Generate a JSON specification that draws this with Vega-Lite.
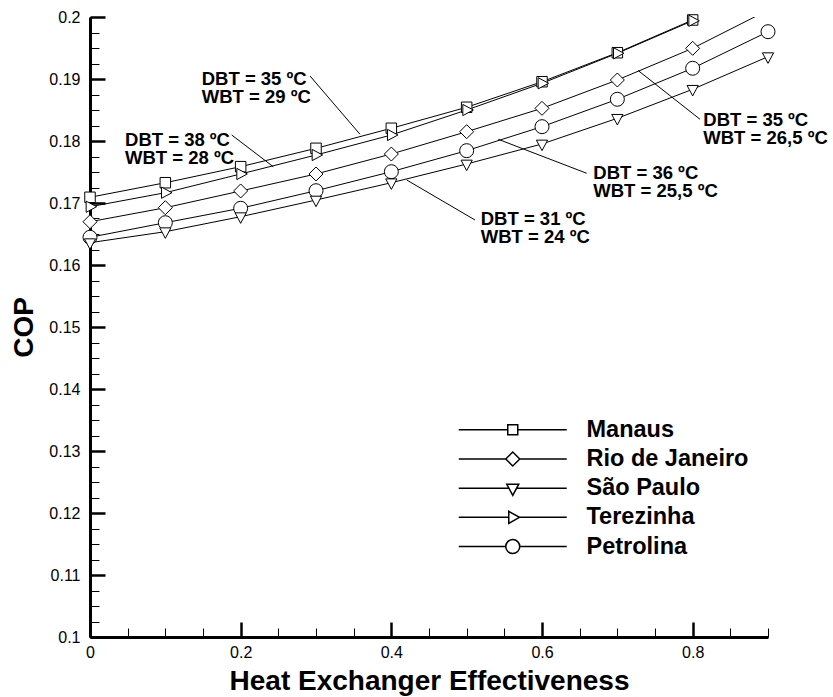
{
  "$schema": "https://vega.github.io/schema/vega-lite/v6.json",
  "width": 678,
  "height": 620,
  "autosize": {"type": "none"},
  "padding": {"left": 90, "top": 17, "right": 65, "bottom": 60},
  "background": "white",
  "config": {
    "view": {"stroke": null},
    "axis": {"grid": false},
    "font": "Liberation Sans"
  },
  "datasets": {
    "series": [
      {"city": "Manaus", "eff": 0.0, "cop": 0.17092},
      {"city": "Manaus", "eff": 0.1, "cop": 0.17327},
      {"city": "Manaus", "eff": 0.2, "cop": 0.17586},
      {"city": "Manaus", "eff": 0.3, "cop": 0.17882},
      {"city": "Manaus", "eff": 0.4, "cop": 0.18205},
      {"city": "Manaus", "eff": 0.5, "cop": 0.18544},
      {"city": "Manaus", "eff": 0.6, "cop": 0.18956},
      {"city": "Manaus", "eff": 0.7, "cop": 0.19424},
      {"city": "Manaus", "eff": 0.8, "cop": 0.19952},
      {"city": "Terezinha", "eff": 0.0, "cop": 0.16940},
      {"city": "Terezinha", "eff": 0.1, "cop": 0.17166},
      {"city": "Terezinha", "eff": 0.2, "cop": 0.17468},
      {"city": "Terezinha", "eff": 0.3, "cop": 0.17774},
      {"city": "Terezinha", "eff": 0.4, "cop": 0.18097},
      {"city": "Terezinha", "eff": 0.5, "cop": 0.18500},
      {"city": "Terezinha", "eff": 0.6, "cop": 0.18931},
      {"city": "Terezinha", "eff": 0.7, "cop": 0.19415},
      {"city": "Terezinha", "eff": 0.8, "cop": 0.19940},
      {"city": "Rio de Janeiro", "eff": 0.0, "cop": 0.16698},
      {"city": "Rio de Janeiro", "eff": 0.1, "cop": 0.16924},
      {"city": "Rio de Janeiro", "eff": 0.2, "cop": 0.17194},
      {"city": "Rio de Janeiro", "eff": 0.3, "cop": 0.17468},
      {"city": "Rio de Janeiro", "eff": 0.4, "cop": 0.17790},
      {"city": "Rio de Janeiro", "eff": 0.5, "cop": 0.18150},
      {"city": "Rio de Janeiro", "eff": 0.6, "cop": 0.18527},
      {"city": "Rio de Janeiro", "eff": 0.7, "cop": 0.18984},
      {"city": "Rio de Janeiro", "eff": 0.8, "cop": 0.19495},
      {"city": "Rio de Janeiro", "eff": 0.9, "cop": 0.20110},
      {"city": "Petrolina", "eff": 0.0, "cop": 0.16447},
      {"city": "Petrolina", "eff": 0.1, "cop": 0.16682},
      {"city": "Petrolina", "eff": 0.2, "cop": 0.16915},
      {"city": "Petrolina", "eff": 0.3, "cop": 0.17198},
      {"city": "Petrolina", "eff": 0.4, "cop": 0.17505},
      {"city": "Petrolina", "eff": 0.5, "cop": 0.17844},
      {"city": "Petrolina", "eff": 0.6, "cop": 0.18231},
      {"city": "Petrolina", "eff": 0.7, "cop": 0.18673},
      {"city": "Petrolina", "eff": 0.8, "cop": 0.19173},
      {"city": "Petrolina", "eff": 0.9, "cop": 0.19763},
      {"city": "São Paulo", "eff": 0.0, "cop": 0.16360},
      {"city": "São Paulo", "eff": 0.1, "cop": 0.16537},
      {"city": "São Paulo", "eff": 0.2, "cop": 0.16779},
      {"city": "São Paulo", "eff": 0.3, "cop": 0.17048},
      {"city": "São Paulo", "eff": 0.4, "cop": 0.17327},
      {"city": "São Paulo", "eff": 0.5, "cop": 0.17629},
      {"city": "São Paulo", "eff": 0.6, "cop": 0.17952},
      {"city": "São Paulo", "eff": 0.7, "cop": 0.18366},
      {"city": "São Paulo", "eff": 0.8, "cop": 0.18834},
      {"city": "São Paulo", "eff": 0.9, "cop": 0.19360}
    ],
    "notes": [
      {"label": "DBT = 35 ºC\nWBT = 29 ºC", "tx": 0.1483, "ty": 0.18998, "x1": 0.2921, "y1": 0.19048, "x2": 0.3584, "y2": 0.18108},
      {"label": "DBT = 38 ºC\nWBT = 28 ºC", "tx": 0.0465, "ty": 0.18019, "x1": 0.1881, "y1": 0.18097, "x2": 0.2433, "y2": 0.17585},
      {"label": "DBT = 31 ºC\nWBT = 24 ºC", "tx": 0.5187, "ty": 0.16750, "x1": 0.4204, "y1": 0.17371, "x2": 0.5111, "y2": 0.16726},
      {"label": "DBT = 36 ºC\nWBT = 25,5 ºC", "tx": 0.6681, "ty": 0.17486, "x1": 0.5420, "y1": 0.18027, "x2": 0.6594, "y2": 0.17479},
      {"label": "DBT = 35 ºC\nWBT = 26,5 ºC", "tx": 0.8141, "ty": 0.18344, "x1": 0.7279, "y1": 0.19134, "x2": 0.8098, "y2": 0.18350}
    ]
  },
  "resolve": {
    "axis": {"x": "independent", "y": "independent"},
    "scale": {"shape": "independent"}
  },
  "layer": [
    {
      "data": {"name": "series"},
      "mark": {"type": "line", "clip": true, "color": "black", "strokeWidth": 1},
      "encoding": {
        "x": {
          "field": "eff", "type": "quantitative",
          "scale": {"domain": [0, 0.9], "nice": false, "zero": false},
          "axis": {
            "orient": "bottom", "values": [0, 0.2, 0.4, 0.6, 0.8], "labels": false,
            "ticks": true, "tickSize": -15, "tickWidth": 2.5, "tickColor": "black",
            "domain": true, "domainWidth": 3, "domainColor": "black", "grid": false,
            "title": "Heat Exchanger Effectiveness", "titleFont": "Liberation Sans",
            "titleFontSize": 28, "titleFontWeight": "bold", "titleColor": "black", "titlePadding": 29
          }
        },
        "y": {
          "field": "cop", "type": "quantitative",
          "scale": {"domain": [0.1, 0.2], "nice": false, "zero": false},
          "axis": {
            "orient": "left", "values": [0.1, 0.11, 0.12, 0.13, 0.14, 0.15, 0.16, 0.17, 0.18, 0.19, 0.2],
            "labels": false, "ticks": true, "tickSize": -15, "tickWidth": 2.5, "tickColor": "black",
            "domain": true, "domainWidth": 3, "domainColor": "black", "grid": false,
            "title": "COP", "titleFont": "Liberation Sans", "titleFontSize": 28,
            "titleFontWeight": "bold", "titleColor": "black", "titlePadding": 50
          }
        },
        "detail": {"field": "city"}
      }
    },
    {
      "data": {"name": "series"},
      "transform": [{"filter": "datum.cop <= 0.2"}],
      "mark": {"type": "point", "filled": true, "fill": "white", "stroke": "black", "strokeWidth": 1, "size": 196, "opacity": 1},
      "encoding": {
        "x": {
          "field": "eff", "type": "quantitative",
          "scale": {"domain": [0, 0.9], "nice": false, "zero": false},
          "axis": {
            "orient": "bottom", "values": [0, 0.2, 0.4, 0.6, 0.8], "format": ".1~f",
            "ticks": false, "domain": false, "labels": true, "labelFlush": false,
            "labelFont": "Liberation Sans", "labelFontSize": 16, "labelColor": "black",
            "labelPadding": 7, "title": null, "grid": false
          }
        },
        "y": {
          "field": "cop", "type": "quantitative",
          "scale": {"domain": [0.1, 0.2], "nice": false, "zero": false},
          "axis": {
            "orient": "left", "values": [0.1, 0.11, 0.12, 0.13, 0.14, 0.15, 0.16, 0.17, 0.18, 0.19, 0.2],
            "format": ".2~f", "ticks": false, "domain": false, "labels": true, "labelFlush": false,
            "labelFont": "Liberation Sans", "labelFontSize": 16, "labelColor": "black",
            "labelPadding": 10, "title": null, "grid": false
          }
        },
        "shape": {
          "field": "city", "type": "nominal",
          "scale": {
            "domain": ["Manaus", "Rio de Janeiro", "São Paulo", "Terezinha", "Petrolina"],
            "range": [
              "M-0.75,-0.75H0.75V0.75H-0.75Z",
              "M0,-1L1,0L0,1L-1,0Z",
              "M-0.8,-0.55L0.8,-0.55L0,0.95Z",
              "M-0.55,-0.8L0.95,0L-0.55,0.8Z",
              "circle"
            ]
          },
          "legend": null
        }
      }
    },
    {
      "data": {"name": "series"},
      "transform": [{"filter": "datum.cop < 0"}],
      "mark": {"type": "point", "filled": true, "fill": "white", "stroke": "black", "strokeWidth": 1, "opacity": 1},
      "encoding": {
        "x": {"field": "eff", "type": "quantitative", "scale": {"domain": [0, 0.9], "nice": false, "zero": false}, "axis": null},
        "y": {"field": "cop", "type": "quantitative", "scale": {"domain": [0.1, 0.2], "nice": false, "zero": false}, "axis": null},
        "shape": {
          "field": "city", "type": "nominal",
          "scale": {
            "domain": ["Manaus", "Rio de Janeiro", "São Paulo", "Terezinha", "Petrolina"],
            "range": [
              "M-5.4,0H-0.5M0.5,0H5.4M-0.5,-0.5H0.5V0.5H-0.5Z",
              "M-5.4,0H-0.7M0.7,0H5.4M0,-0.7L0.7,0L0,0.7L-0.7,0Z",
              "M-5.4,0H-0.39M0.39,0H5.4M-0.6,-0.4L0.6,-0.4L0,0.73Z",
              "M-5.4,0H-0.4M0.67,0H5.4M-0.4,-0.6L0.67,0L-0.4,0.6Z",
              "M-5.4,0H-0.7M0.7,0H5.4M0.7,0A0.7,0.7,0,1,1,-0.7,0A0.7,0.7,0,1,1,0.7,0Z"
            ]
          },
          "legend": {
            "orient": "none", "legendX": 411, "legendY": 401, "title": null, "padding": 0,
            "symbolSize": 400, "symbolOffset": 0, "zindex": 5, "symbolOpacity": 1,
            "labelFont": "Liberation Sans", "labelFontSize": 23.5, "labelFontWeight": "bold",
            "labelColor": "black", "labelOffset": 62, "labelLimit": 400, "rowPadding": 4.2
          }
        }
      }
    },
    {
      "data": {"name": "notes"},
      "mark": {"type": "rule", "color": "black", "strokeWidth": 1},
      "encoding": {
        "x": {
          "field": "x1", "type": "quantitative",
          "scale": {"domain": [0, 0.9], "nice": false, "zero": false},
          "axis": {
            "orient": "bottom",
            "values": [0, 0.05, 0.1, 0.15, 0.2, 0.25, 0.3, 0.35, 0.4, 0.45, 0.5, 0.55, 0.6, 0.65, 0.7, 0.75, 0.8, 0.85, 0.9],
            "labels": false, "ticks": true, "tickSize": -9, "tickWidth": 1, "tickColor": "black",
            "domain": false, "title": null, "grid": false
          }
        },
        "y": {
          "field": "y1", "type": "quantitative",
          "scale": {"domain": [0.1, 0.2], "nice": false, "zero": false},
          "axis": {
            "orient": "left",
            "values": [0.1, 0.1025, 0.105, 0.1075, 0.11, 0.1125, 0.115, 0.1175, 0.12, 0.1225, 0.125, 0.1275, 0.13, 0.1325, 0.135, 0.1375, 0.14, 0.1425, 0.145, 0.1475, 0.15, 0.1525, 0.155, 0.1575, 0.16, 0.1625, 0.165, 0.1675, 0.17, 0.1725, 0.175, 0.1775, 0.18, 0.1825, 0.185, 0.1875, 0.19, 0.1925, 0.195, 0.1975, 0.2],
            "labels": false, "ticks": true, "tickSize": -9, "tickWidth": 1, "tickColor": "black",
            "domain": false, "title": null, "grid": false
          }
        },
        "x2": {"field": "x2"},
        "y2": {"field": "y2"}
      }
    },
    {
      "data": {"name": "notes"},
      "mark": {"type": "text", "align": "left", "baseline": "middle", "font": "Liberation Sans", "fontSize": 18.5, "fontWeight": "bold", "color": "black", "lineBreak": "\n", "lineHeight": 18.3},
      "encoding": {
        "x": {"field": "tx", "type": "quantitative", "scale": {"domain": [0, 0.9], "nice": false, "zero": false}, "axis": null},
        "y": {"field": "ty", "type": "quantitative", "scale": {"domain": [0.1, 0.2], "nice": false, "zero": false}, "axis": null},
        "text": {"field": "label"}
      }
    }
  ]
}
